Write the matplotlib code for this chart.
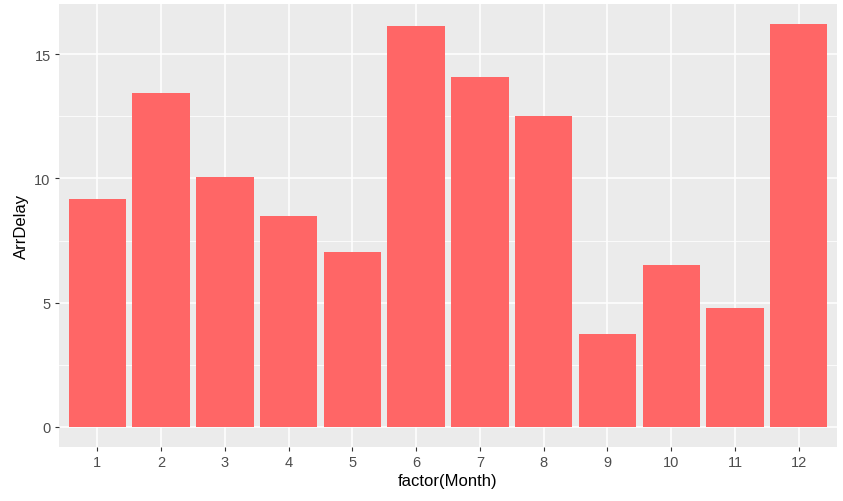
import numpy as np
import matplotlib.pyplot as plt

plt.rcParams['font.family'] = ['Liberation Sans', 'DejaVu Sans']

months = ["1", "2", "3", "4", "5", "6", "7", "8", "9", "10", "11", "12"]
arr_delay = [9.16, 13.45, 10.05, 8.49, 7.02, 16.13, 14.09, 12.53, 3.74, 6.51, 4.78, 16.21]

fig = plt.figure(figsize=(8.43, 5.02), dpi=100)
ax = fig.add_axes([59/843, 54/502, 778/843, 443/502])
ax.set_facecolor('#EBEBEB')

x = np.arange(1, len(months) + 1)
ax.bar(x, arr_delay, width=0.9, color='#FF6666', zorder=3)

ymax = max(arr_delay)
ax.set_xlim(0.4, len(months) + 0.6)
ax.set_ylim(-0.05 * ymax, 1.05 * ymax)

ax.set_xticks(x)
ax.set_xticklabels(months)
ax.set_yticks([0, 5, 10, 15])
ax.set_yticks([2.5, 7.5, 12.5], minor=True)

ax.grid(True, which='major', color='white', linewidth=1.1, zorder=0)
ax.grid(True, which='minor', axis='y', color='white', linewidth=0.55, zorder=0)
for s in ax.spines.values():
    s.set_visible(False)

ax.tick_params(which='major', length=3, width=0.8, color='#333333',
               labelcolor='#4D4D4D', labelsize=10.5, pad=3)
ax.tick_params(which='minor', length=0)

ax.set_xlabel("factor(Month)", fontsize=12, color='black', labelpad=3)
ax.set_ylabel("ArrDelay", fontsize=12, color='black', labelpad=4)

fig.savefig("out.png", dpi=100)
